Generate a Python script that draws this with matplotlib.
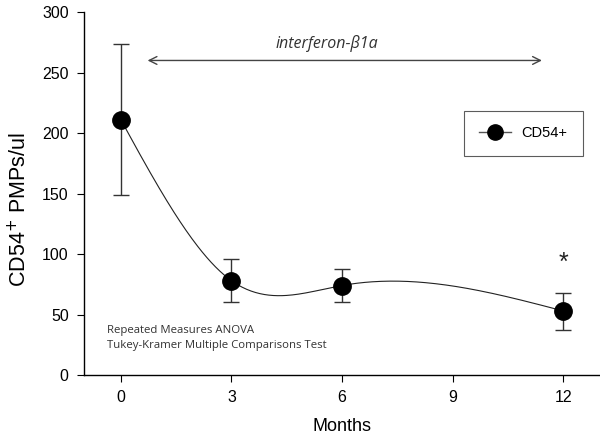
import numpy as np
import matplotlib
matplotlib.use("Agg")
import matplotlib.pyplot as plt

months = [0, 3, 6, 12]
cd54 = [211, 78, 74, 53]
err_upper = [274, 95.5, 88, 68]
err_lower = [149, 60, 60, 37]
xticks = [0, 3, 6, 9, 12]
yticks = [0, 50, 100, 150, 200, 250, 300]


def natural_spline(x, y, xs):
    x = np.asarray(x, float); y = np.asarray(y, float)
    n = len(x)
    h = np.diff(x)
    A = np.zeros((n, n)); b = np.zeros(n)
    A[0, 0] = 1; A[-1, -1] = 1
    for i in range(1, n - 1):
        A[i, i - 1] = h[i - 1]; A[i, i] = 2 * (h[i - 1] + h[i]); A[i, i + 1] = h[i]
        b[i] = 3 * ((y[i + 1] - y[i]) / h[i] - (y[i] - y[i - 1]) / h[i - 1])
    c = np.linalg.solve(A, b)
    out = np.empty_like(xs)
    for k, xv in enumerate(xs):
        i = min(max(np.searchsorted(x, xv) - 1, 0), n - 2)
        d = xv - x[i]
        bi = (y[i + 1] - y[i]) / h[i] - h[i] * (2 * c[i] + c[i + 1]) / 3
        di = (c[i + 1] - c[i]) / (3 * h[i])
        out[k] = y[i] + bi * d + c[i] * d ** 2 + di * d ** 3
    return out


plt.rcParams['font.family'] = ['Liberation Sans', 'DejaVu Sans']
fig = plt.figure(figsize=(6, 4.47), dpi=100)
ax = fig.add_axes([0.14, 0.161, 0.86, 0.812])

xs = np.linspace(months[0], months[-1], 300)
ax.plot(xs, natural_spline(months, cd54, xs), color='#222222', lw=0.8, zorder=2)

yerr = [np.array(cd54) - np.array(err_lower), np.array(err_upper) - np.array(cd54)]
ax.errorbar(months, cd54, yerr=yerr, fmt='none', ecolor='#333333', elinewidth=1,
            capsize=5.5, capthick=1, zorder=3)
ax.plot(months, cd54, 'o', color='black', ms=12.5, zorder=4)

# legend
ax.plot([], [], '-o', color='black', ms=11, lw=1, mfc='black', mec='black', label='CD54+')
leg = ax.legend(loc='upper left', bbox_to_anchor=(0.736, 0.727), frameon=True, fancybox=False,
                fontsize=10.5, handlelength=2.2, borderpad=1.05, handletextpad=0.7,
                borderaxespad=0)
leg.get_frame().set_edgecolor('#333333')
leg.get_frame().set_linewidth(0.8)
leg.legend_handles[0].set_color('#555555')
leg.legend_handles[0].set_markerfacecolor('black')
leg.legend_handles[0].set_markeredgecolor('black')

# arrow
ax.annotate('', xy=(0.65, 260), xytext=(11.5, 260),
            arrowprops=dict(arrowstyle='<->', color='#444444', lw=1, mutation_scale=14))
ax.text(5.6, 274, 'interferon-β1a', ha='center', va='center', style='italic',
        fontsize=11.5, color='#333333', family=['Open Sans', 'DejaVu Sans'])

ax.text(12, 93, '*', ha='center', va='center', fontsize=18, color='#222222')

ax.text(-0.38, 41, 'Repeated Measures ANOVA\nTukey-Kramer Multiple Comparisons Test',
        ha='left', va='top', fontsize=8.2, color='#333333', linespacing=1.45,
        family=['Open Sans', 'DejaVu Sans'])

ax.set_xlim(-1, 13)
ax.set_ylim(0, 300)
ax.set_xticks(xticks)
ax.set_yticks(yticks)
ax.tick_params(direction='out', length=5, labelsize=11.5, pad=6)
for s in ['top', 'right']:
    ax.spines[s].set_visible(False)
for s in ['left', 'bottom']:
    ax.spines[s].set_linewidth(1)
ax.set_xlabel('Months', fontsize=13, labelpad=9)
ax.set_ylabel('CD54$^{+}$ PMPs/ul', fontsize=15.5)
ax.yaxis.set_label_coords(-0.102, 0.455)

fig.savefig('out.png', dpi=100)
